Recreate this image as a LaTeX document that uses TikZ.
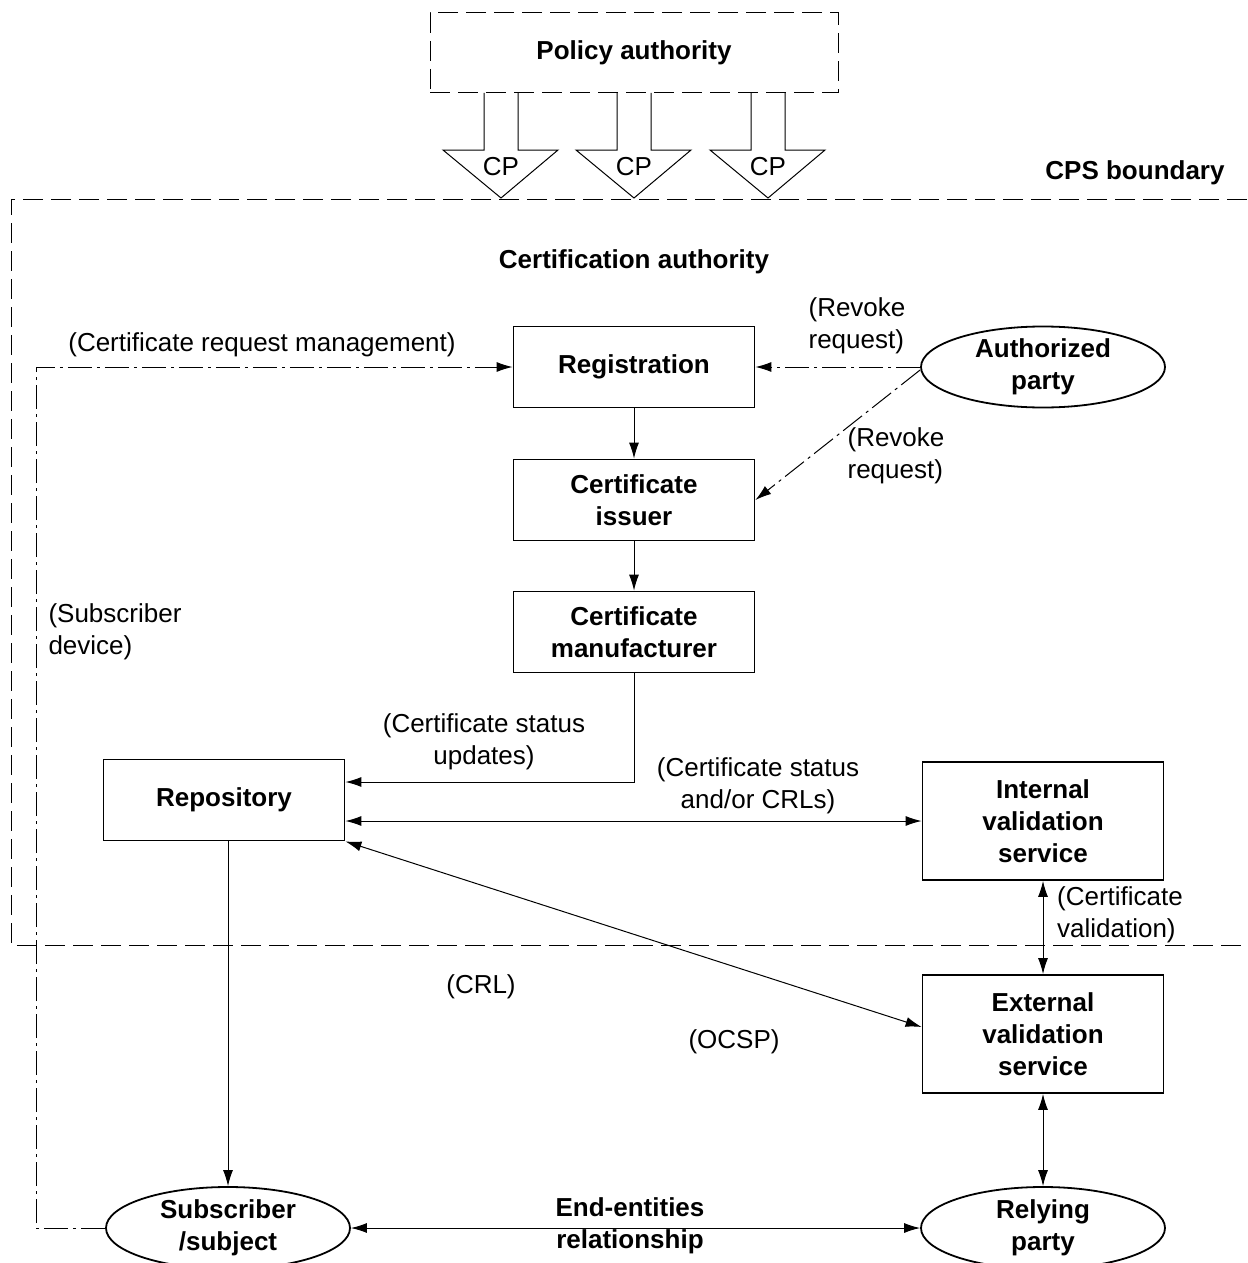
\documentclass[tikz,border=0pt]{standalone}
\usepackage{fontspec}
\setmainfont{Liberation Sans}
\usetikzlibrary{arrows.meta,shapes.geometric,calc}
\begin{document}
\begin{tikzpicture}[x=0.5pt,y=-0.5pt,
  every node/.style={font=\fontsize{13}{16}\selectfont},
  box/.style={draw,line width=0.9pt,minimum width=120.5pt,minimum height=40.5pt,inner sep=0pt,align=center,font=\fontsize{13}{16}\selectfont\bfseries},
  tallbox/.style={box,minimum height=59pt},
  oval/.style={draw,ellipse,line width=0.9pt,minimum width=122pt,minimum height=40.5pt,inner sep=0pt,align=center,font=\fontsize{13}{16}\selectfont\bfseries},
  lbl/.style={align=center,inner sep=0pt},
  blbl/.style={lbl,font=\fontsize{13}{16}\selectfont\bfseries},
  conn/.style={line width=0.5pt,-{Latex[length=8pt,width=5pt]}},
  bconn/.style={line width=0.5pt,{Latex[length=8pt,width=5pt]}-{Latex[length=8pt,width=5pt]}},
  dd/.style={line width=0.5pt,dash pattern=on 12pt off 2.5pt on 1.5pt off 2.5pt},
  bnd/.style={line width=0.5pt,dash pattern=on 10pt off 4pt}]
\useasboundingbox (0,0) rectangle (1247,1263);

% Policy authority
\node[draw,bnd,minimum width=204pt,minimum height=40pt,inner sep=0pt,font=\fontsize{13}{16}\selectfont\bfseries] (pa) at (634,53) {Policy authority};
% CP arrows
\foreach \cx/\nm in {501/cpa,634/cpb,768/cpc}{
  \draw[line width=0.5pt] (\cx-17,93) -- (\cx-17,150) -- (\cx-58,150) -- (\cx,198) -- (\cx+57,150) -- (\cx+17,150) -- (\cx+17,93);
  \node[lbl] (\nm) at (\cx,167) {CP};
}

% CPS boundary
\draw[bnd] (1247,199) -- (11,199) -- (11,945) -- (1247,945);
\node[blbl] (cpsb) at (1135,173) {CPS boundary};
\node[blbl] (caut) at (634,262) {Certification authority};

% Boxes
\node[box] (reg) at (634,367) {Registration};
\node[box] (iss) at (634,500) {Certificate\\issuer};
\node[box] (man) at (634,632) {Certificate\\manufacturer};
\node[box] (repo) at (224,800) {Repository};
\node[tallbox] (int) at (1043,821) {Internal\\validation\\service};
\node[tallbox] (ext) at (1043,1034) {External\\validation\\service};
\node[oval] (auth) at (1043,367) {Authorized\\party};
\node[oval,minimum height=41pt] (sub) at (228,1228) {Subscriber\\/subject};
\node[oval,minimum height=41pt] (rel) at (1043,1228) {Relying\\party};

% Connectors
\draw[conn] (reg) -- (iss);
\draw[conn] (iss) -- (man);
\draw[conn] (man.south) |- ($(repo.east)+(0,-18)$);
\draw[bconn] (repo.east |- int.west) -- (int.west);
\draw[bconn] (repo.south east) -- ($(ext.west)+(0,-7)$);
\draw[bconn] (int) -- (ext);
\draw[bconn] (ext) -- (rel);
\draw[conn] (repo.south -| sub.north) -- (sub.north);
\draw[bconn] (sub) -- (rel);
\coordinate (ddx) at (36,0);
\draw[dd,-{Latex[length=8pt,width=5pt]}] (sub.west) -| (ddx |- reg.west) -- (reg.west);
\draw[dd,-{Latex[length=8pt,width=5pt]}] (auth.west) -- (reg.east);
\draw[dd,-{Latex[length=8pt,width=5pt]}] ($(auth.west)+(0,3)$) -- (iss.east);

% Labels
\node[lbl] (l1) at (262,345) {(Certificate request management)};
\node[lbl,align=left] (l2) at (115,632) {(Subscriber\\device)};
\node[lbl,align=left] (l3) at (857,326) {(Revoke\\request)};
\node[lbl,align=left] (l4) at (896,456) {(Revoke\\request)};
\node[lbl] (l5) at (484,742) {(Certificate status\\updates)};
\node[lbl] (l6) at (758,786) {(Certificate status\\and/or CRLs)};
\node[lbl,align=left] (l7) at (1120,915) {(Certificate\\validation)};
\node[lbl] (l8) at (481,987) {(CRL)};
\node[lbl] (l9) at (734,1042) {(OCSP)};
\node[blbl] (l10) at (630,1226) {End-entities\\relationship};
\end{tikzpicture}
\end{document}
